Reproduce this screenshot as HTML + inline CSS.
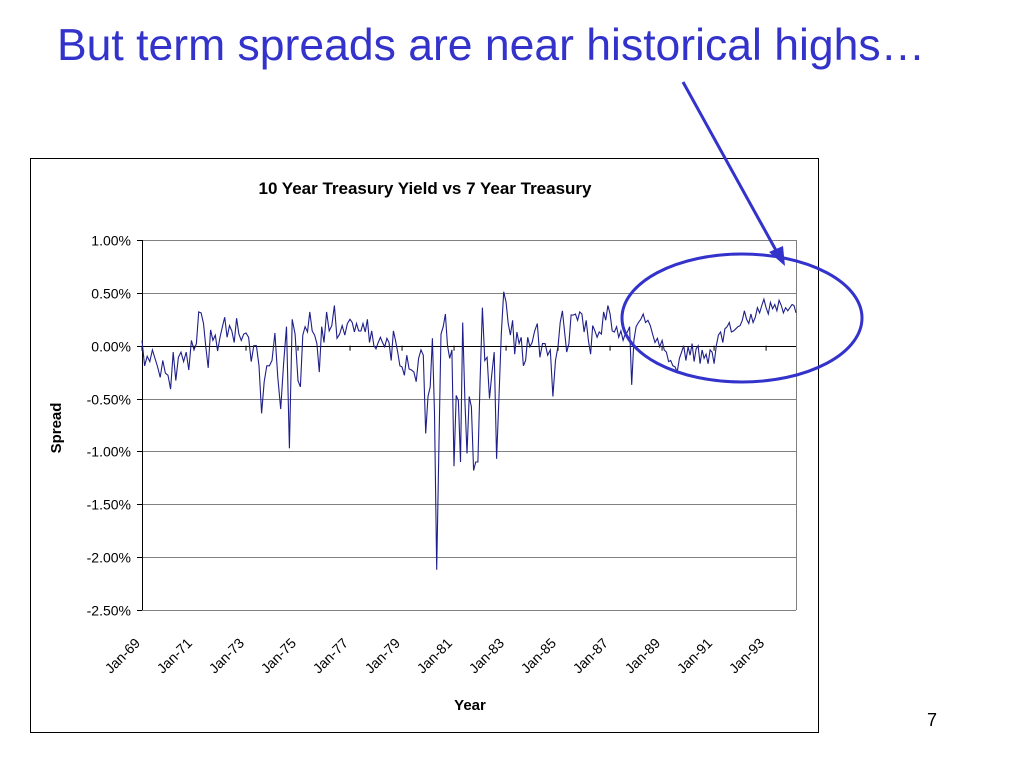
<!DOCTYPE html>
<html><head><meta charset="utf-8"><style>
body{margin:0;background:#fff;font-family:"Liberation Sans",sans-serif}
svg{display:block}
</style></head><body>
<svg id="s" width="1024" height="768">
<text x="57" y="60" font-size="44.5" fill="#3333cc">But term spreads are near historical highs…</text>
<rect x="30.5" y="158.5" width="788" height="574" fill="#fff" stroke="#000"/>
<text x="425" y="194" font-size="17" font-weight="bold" text-anchor="middle">10 Year Treasury Yield vs 7 Year Treasury</text>
<g id="grid"></g>
<g id="ylab"></g>
<g id="xlab"></g>
<path id="line" fill="none" stroke="#1f1f8a" stroke-width="1.1"/>
<text transform="translate(61,428) rotate(-90)" font-size="15" font-weight="bold" text-anchor="middle">Spread</text>
<text x="470" y="710" font-size="15" font-weight="bold" text-anchor="middle">Year</text>
<text x="932" y="726" font-size="18" text-anchor="middle">7</text>
<ellipse cx="742" cy="318" rx="120" ry="64" fill="none" stroke="#3333cc" stroke-width="3"/>
<line x1="683" y1="82" x2="778" y2="254" stroke="#3333cc" stroke-width="3"/>
<polygon points="785,266 769,252 783,246" fill="#3333cc"/>
</svg>
<script>
const yTicks=[1,0.5,0,-0.5,-1,-1.5,-2,-2.5];
const yTickLabels=["1.00%","0.50%","0.00%","-0.50%","-1.00%","-1.50%","-2.00%","-2.50%"];
const xTickYears=[1969,1971,1973,1975,1977,1979,1981,1983,1985,1987,1989,1991,1993];
const xTickLabels=["Jan-69","Jan-71","Jan-73","Jan-75","Jan-77","Jan-79","Jan-81","Jan-83","Jan-85","Jan-87","Jan-89","Jan-91","Jan-93"];
const years=[1969,1970,1971,1972,1973,1974,1975,1976,1977,1978,1979,1980,1981,1982,1983,1984,1985,1986,1987,1988,1989,1990,1991,1992,1993,1994];
const lastYearSpan=0.15;
const spreadByYear=[
[.05,-.19,-.10,-.15,-.04,-.12,-.20,-.30,-.14,-.26],
[-.28,-.41,-.06,-.33,-.11,-.06,-.15,-.06,-.23,.05],
[-.04,.02,.32,.31,.21,-.01,-.21,.15,.05,.10,-.05],
[.08,.18,.27,.08,.19,.14,.03,.26,.11,.05,.11],
[.12,.08,-.15,0,0,-.19,-.64,-.34,-.19,-.19],
[-.14,.12,-.30,-.60,-.17,.18,-.97,.25,.11],
[-.33,-.39,.10,.18,.13,.32,.14,.10,.02,-.25,.18],
[.03,.32,.14,.19,.38,.07,.11,.19,.10,.21],
[.25,.22,.13,.21,.14,.14,.21,.13,.25,.03,.14,0],
[-.03,.03,.08,.03,-.01,.07,.03,-.14,.14,.05,-.06,-.19],
[-.20,-.28,-.09,-.22,-.23,-.25,-.34,-.12,-.04,-.09,-.83],
[-.48,-.39,.07,-.64,-2.12,-.96,.11,.18,.30,0,-.12,-.04],
[-1.14,-.47,-.52,-1.10,.22,-.52,-1.02,-.48,-.58,-1.18,-1.10,-1.10],
[-.33,.36,-.14,-.11,-.50,-.26,-.06,-1.07,-.48,.11,.51],
[.41,.21,.10,.24,-.08,.13,.02,.08,-.19,-.14,.08,-.01],
[.03,.14,.21,-.11,.02,.02,-.09,-.04,-.48,-.14],
[0,.22,.33,.13,-.06,.02,.29,.29,.30,.24,.32,.30],
[.13,.24,.05,-.08,.19,.14,.08,.13,.11,.32,.24,.38],
[.30,.14,.13,.18,.08,.14,.05,.11,.13,.18,-.37,.05],
[.18,.22,.25,.30,.22,.24,.19,.11,.03,.07,-.01],
[.05,-.04,-.06,-.15,-.14,-.19,-.20,-.25,-.12,-.06,.00,-.14],
[-.01,-.09,.02,-.15,-.03,.00,-.17,-.04,-.12,-.08,-.17,-.04,-.06],
[-.17,.00,.10,.13,.03,.16,.18,.22,.13,.14,.16,.18],
[.19,.24,.33,.25,.21,.30,.22,.27,.36,.31,.38,.44],
[.36,.30,.41,.35,.39,.33,.43,.38,.31,.36,.33,.36],
[.39,.38,.31]];
const startYear=1969.0, endYear=1994.15;
const X0=142,X1=796,Y0=240,Y1=610;
const xs=t=>X0+(t-startYear)/(endYear-startYear)*(X1-X0);
const ys=v=>Y0+(1-v)/(1-(-2.5))*(Y1-Y0);
const NS="http://www.w3.org/2000/svg";
function mk(tag,attrs,parent){const e=document.createElementNS(NS,tag);for(const k in attrs)e.setAttribute(k,attrs[k]);parent.appendChild(e);return e;}
const grid=document.getElementById('grid'),ylab=document.getElementById('ylab'),xlab=document.getElementById('xlab');
yTicks.forEach((v,i)=>{
 const y=Math.round(ys(v))+0.5;
 const l=mk('line',{x1:X0,x2:X1,y1:y,y2:y,stroke:v===0?'#000':'#808080','stroke-width':1},grid);
 
 
 mk('line',{x1:X0-5,x2:X0,y1:y,y2:y,stroke:'#000'},grid);
 const t=mk('text',{x:X0-11,y:y+5,'font-size':14,'text-anchor':'end'},ylab);
 t.textContent=yTickLabels[i];
 
 
});
mk('line',{x1:X0+0.5,x2:X0+0.5,y1:Y0,y2:Y1,stroke:'#000'},grid);
mk('line',{x1:X1+0.5,x2:X1+0.5,y1:Y0,y2:Y1,stroke:'#808080'},grid);
xTickYears.forEach((yr,i)=>{
 const x=xs(yr);
 mk('line',{x1:x,x2:x,y1:ys(0),y2:ys(0)+5,stroke:'#000'},grid);
 const t=mk('text',{transform:`translate(${x-1},${644}) rotate(-45)`,'font-size':14,'text-anchor':'end'},xlab);
 t.textContent=xTickLabels[i];
 
 
});
let d='',first=true;
years.forEach((yr,k)=>{
 const vals=spreadByYear[k];
 const last=k===years.length-1;
 vals.forEach((v,i)=>{
  const t=last?yr+i/(vals.length-1)*lastYearSpan:yr+i/vals.length;
  d+=(first?'M':'L')+xs(t).toFixed(1)+' '+ys(v).toFixed(1);first=false;
 });
});
document.getElementById('line').setAttribute('d',d);
</script>
</body></html>
